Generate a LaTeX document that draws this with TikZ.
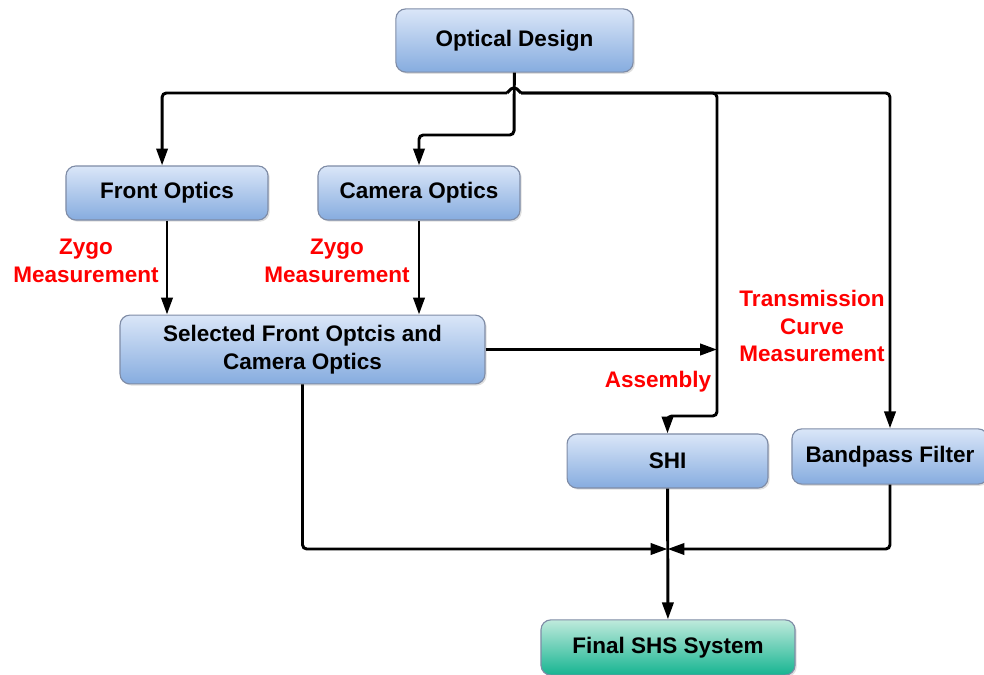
\documentclass[tikz,border=0pt]{standalone}
\usepackage{fontspec}
\setmainfont{Liberation Sans}
\usepackage{xcolor}
\usepackage{tikz}
\usetikzlibrary{arrows.meta, positioning, shadows}

\definecolor{boxTop}{HTML}{DAE6F8}
\definecolor{boxBottom}{HTML}{86ACDF}
\definecolor{boxBorder}{HTML}{7F8CA6}
\definecolor{finalTop}{HTML}{BFEADC}
\definecolor{finalBottom}{HTML}{16B491}

\begin{document}
\begin{tikzpicture}[x=0.025cm, y=-0.025cm,
  font=\fontsize{16}{19.5}\selectfont\bfseries,
  stage/.style={draw=boxBorder, line width=0.8pt, rounded corners=7pt,
    top color=boxTop, bottom color=boxBottom, align=center, inner sep=0pt,
    drop shadow={opacity=0.25, shadow xshift=1.2pt, shadow yshift=-1.2pt}},
  finalstage/.style={stage, top color=finalTop, bottom color=finalBottom},
  link/.style={draw=black, line width=2.1pt, rounded corners=3pt,
    -{Triangle[length=12pt, width=8pt]}},
  wire/.style={draw=black, line width=2.1pt, rounded corners=3pt},
  step label/.style={text=red, align=center}
]
\useasboundingbox (0,0) rectangle (984,675);

%------------- Boxes
	\node[stage, minimum width=5.93cm, minimum height=1.58cm] (Design) at (514.5, 40.5) {Optical Design};
	\node[stage, minimum width=5.05cm, minimum height=1.35cm] (Front) at (167, 193) {Front Optics};
	\node[stage, minimum width=5.05cm, minimum height=1.35cm] (Camera) at (419, 193) {Camera Optics};
	\node[stage, minimum width=9.12cm, minimum height=1.72cm] (Selected) at (302.5, 349.5) {Selected Front Optcis and\\Camera Optics};
	\node[stage, minimum width=5.02cm, minimum height=1.35cm] (SHI) at (667.5, 461) {SHI};
	\node[stage, minimum width=4.9cm, minimum height=1.38cm] (Filter) at (890, 456.5) {Bandpass Filter};
	\node[finalstage, minimum width=6.35cm, minimum height=1.38cm] (Final) at (668, 647.5) {Final SHS System};

%------------- Labels
	\node[step label] (Zygo_Front) at (86, 261) {Zygo\\Measurement};
	\node[step label] (Zygo_Camera) at (337, 261) {Zygo\\Measurement};
	\node[step label] (Transmission) at (812, 326) {Transmission\\Curve\\Measurement};
	\node[step label] (Assembly) at (658, 382) {Assembly};

%------------- Junctions
	\coordinate (Top_Hop) at (514, 93);
	\coordinate (Top_Hop_L) at (507, 93);
	\coordinate (Top_Hop_R) at (521, 93);
	\coordinate (Camera_Turn) at (514, 135);
	\coordinate (SHI_Top) at (717, 93);
	\coordinate (SHI_Turn) at (717, 416);
	\coordinate (Bottom_Join) at (667.5, 549);

%------------- Optical Design out
	\draw[link] (Design) -- (Camera_Turn) -| (Camera);
	\draw[wire] (Top_Hop_L) -- (Top_Hop |- 0, 86) -- (Top_Hop_R);
	\draw[link] (Top_Hop_L) -| ([xshift=-3.5pt]Front.north);
	\draw[link] (Top_Hop_R) -| (Filter);
	\draw[link] (Top_Hop_R) -- (SHI_Top) -- (SHI_Turn) -| (SHI);

%------------- Measurement and assembly
	\draw[link] (Front) -- (Front |- Selected.north);
	\draw[link] (Camera) -- (Camera |- Selected.north);
	\draw[link] (Selected) -- (Selected -| SHI_Top);

%------------- Final system
	\draw[link] (Selected) |- (Bottom_Join);
	\draw[link] (Filter) |- (Bottom_Join);
	\draw[link] (SHI) -- (Final);

\end{tikzpicture}
\end{document}
